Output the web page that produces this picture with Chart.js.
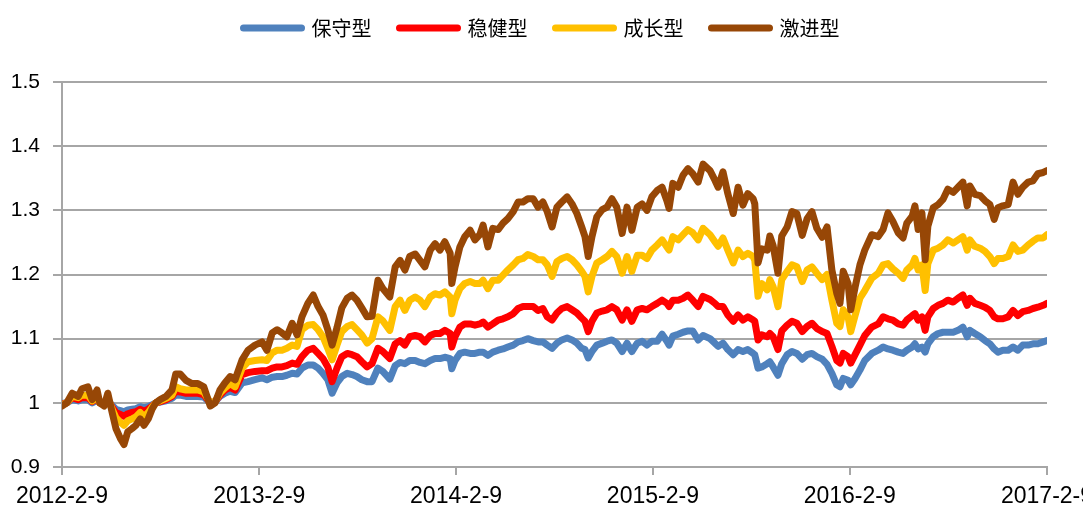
<!DOCTYPE html>
<html>
<head>
<meta charset="utf-8">
<script src="https://cdn.jsdelivr.net/npm/chart.js@4.4.1/dist/chart.umd.min.js"></script>
<style>
html,body{margin:0;padding:0;background:#fff;}
#wrap{width:1083px;height:522px;}
</style>
</head>
<body>
<div id="wrap"><canvas id="c" width="1083" height="522"></canvas></div>
<script>
// Days since 2012-02-09
const days = [
0,9,19,30,37,48,56,65,70,78,85,93,100,108,115,122,130,137,145,152,160,167,174,182,193,204,211,219,230,241,252,263,275,284,
293,302,312,321,334,345,358,371,380,390,399,408,417,427,436,445,456,466,475,484,493,501,510,519,529,538,547,556,566,575,586,595,
608,618,627,636,645,655,664,673,683,692,701,710,720,723,729,738,747,757,766,775,781,790,799,809,818,827,837,846,855,864,874,883,892,
900,909,918,927,937,946,955,964,970,976,983,992,1002,1011,1020,1029,1039,1048,1057,1067,1076,1085,1094,1104,1113,1122,1126,1133,1143,1152,1161,1170,1180,1189,
1202,1211,1217,1226,1235,1245,1254,1263,1272,1282,1285,1291,1298,1308,1313,1319,1328,1335,1345,1354,1363,1373,1382,1391,1400,1410,1419,1428,1437,1443,1449,1458,1463,1471,1480,1489,
1502,1514,1523,1532,1541,1551,1560,1567,1577,1582,1588,1595,1601,1606,1616,1625,1634,1643,1653,1662,1671,1679,1684,1693,1703,1712,1721,1729,1736,1745,1755,1764,1773,1782,1792,1801,1810,1820,1827
];
const tickDays = [0,366,731,1096,1461,1827];
const tickLabels = ['2012-2-9','2013-2-9','2014-2-9','2015-2-9','2016-2-9','2017-2-9'];
const seriesNames = ['保守型','稳健型','成长型','激进型'];

const conservative = [
0.999,1.0,1.005,1.003,1.005,1.005,1.0,1.004,1.0,0.999,1.003,0.996,0.99,0.988,0.986,0.989,0.99,0.991,0.994,0.992,0.994,0.997,1.0,1.001,1.003,1.007,1.012,1.012,1.01,1.01,1.01,1.009,1.0,1.002,
1.01,1.015,1.018,1.016,1.031,1.033,1.036,1.039,1.036,1.04,1.041,1.041,1.043,1.046,1.045,1.054,1.059,1.059,1.054,1.046,1.036,1.015,1.031,1.041,1.046,1.044,1.041,1.036,1.033,1.033,1.054,1.049,
1.037,1.058,1.063,1.061,1.066,1.066,1.063,1.061,1.066,1.069,1.069,1.071,1.069,1.053,1.066,1.077,1.079,1.077,1.077,1.079,1.079,1.074,1.079,1.082,1.084,1.087,1.09,1.095,1.097,1.1,1.097,1.095,1.095,
1.09,1.085,1.093,1.098,1.101,1.098,1.093,1.085,1.083,1.07,1.08,1.09,1.093,1.096,1.098,1.093,1.08,1.093,1.08,1.093,1.096,1.09,1.096,1.096,1.107,1.096,1.09,1.104,1.107,1.11,1.112,1.112,1.098,1.105,
1.1,1.093,1.088,1.093,1.083,1.075,1.083,1.08,1.083,1.077,1.075,1.054,1.056,1.061,1.064,1.056,1.043,1.061,1.075,1.08,1.077,1.068,1.075,1.077,1.072,1.068,1.06,1.046,1.028,1.025,1.038,1.035,1.028,1.038,1.051,1.066,
1.077,1.082,1.087,1.084,1.082,1.079,1.077,1.082,1.087,1.092,1.084,1.087,1.079,1.092,1.103,1.108,1.11,1.11,1.11,1.113,1.118,1.103,1.113,1.108,1.103,1.097,1.092,1.084,1.079,1.082,1.082,1.087,1.082,1.09,1.09,1.092,1.092,1.095,1.097
];
const balanced = [
0.998,1.0,1.008,1.005,1.008,1.008,1.002,1.007,1.0,0.998,1.005,0.993,0.985,0.982,0.979,0.983,0.985,0.986,0.99,0.987,0.99,0.995,1.0,1.002,1.005,1.01,1.018,1.017,1.015,1.015,1.015,1.013,1.0,1.002,
1.012,1.02,1.024,1.02,1.044,1.047,1.049,1.05,1.05,1.054,1.056,1.056,1.058,1.062,1.06,1.072,1.082,1.085,1.077,1.069,1.056,1.033,1.054,1.072,1.077,1.075,1.072,1.064,1.056,1.061,1.085,1.08,
1.069,1.092,1.097,1.09,1.103,1.105,1.103,1.095,1.105,1.108,1.108,1.113,1.108,1.087,1.103,1.118,1.123,1.123,1.121,1.123,1.126,1.118,1.123,1.129,1.131,1.134,1.139,1.147,1.15,1.15,1.15,1.144,1.147,
1.134,1.129,1.14,1.147,1.15,1.145,1.14,1.132,1.127,1.111,1.127,1.14,1.143,1.145,1.15,1.145,1.129,1.145,1.127,1.145,1.147,1.145,1.15,1.155,1.16,1.155,1.15,1.16,1.16,1.163,1.168,1.16,1.15,1.166,
1.161,1.155,1.15,1.15,1.137,1.127,1.137,1.129,1.134,1.129,1.127,1.098,1.106,1.103,1.108,1.103,1.083,1.112,1.121,1.127,1.124,1.111,1.119,1.124,1.116,1.111,1.108,1.088,1.066,1.062,1.077,1.072,1.062,1.075,1.09,1.105,
1.118,1.123,1.134,1.131,1.129,1.123,1.121,1.129,1.136,1.139,1.129,1.134,1.113,1.134,1.147,1.152,1.155,1.16,1.157,1.163,1.168,1.152,1.163,1.155,1.152,1.149,1.144,1.134,1.131,1.131,1.134,1.144,1.136,1.142,1.144,1.147,1.149,1.152,1.155
];
const growth = [
0.997,1.0,1.01,1.008,1.012,1.012,1.003,1.01,1.0,0.998,1.008,0.99,0.977,0.97,0.965,0.972,0.975,0.978,0.985,0.978,0.985,0.993,1.0,1.003,1.007,1.012,1.025,1.022,1.02,1.02,1.02,1.017,1.0,1.002,
1.015,1.023,1.03,1.025,1.054,1.064,1.066,1.067,1.066,1.078,1.082,1.082,1.085,1.09,1.088,1.114,1.121,1.122,1.114,1.103,1.085,1.067,1.09,1.111,1.119,1.122,1.114,1.106,1.093,1.1,1.134,1.128,
1.113,1.15,1.16,1.144,1.16,1.165,1.16,1.15,1.165,1.17,1.168,1.173,1.165,1.139,1.16,1.178,1.186,1.189,1.186,1.186,1.191,1.178,1.191,1.191,1.199,1.207,1.215,1.223,1.225,1.231,1.228,1.223,1.223,
1.215,1.197,1.22,1.225,1.228,1.223,1.215,1.205,1.197,1.173,1.197,1.218,1.223,1.228,1.236,1.228,1.202,1.228,1.205,1.23,1.23,1.225,1.238,1.246,1.254,1.243,1.238,1.259,1.254,1.262,1.27,1.265,1.254,1.272,
1.262,1.251,1.244,1.257,1.238,1.218,1.238,1.228,1.233,1.228,1.222,1.166,1.186,1.176,1.192,1.181,1.15,1.192,1.205,1.215,1.212,1.189,1.207,1.212,1.202,1.192,1.2,1.16,1.124,1.119,1.145,1.134,1.111,1.136,1.163,1.175,
1.194,1.202,1.215,1.217,1.209,1.202,1.194,1.207,1.215,1.225,1.207,1.215,1.175,1.217,1.238,1.241,1.246,1.254,1.249,1.254,1.259,1.238,1.254,1.244,1.241,1.236,1.228,1.217,1.225,1.225,1.228,1.246,1.236,1.238,1.246,1.252,1.257,1.257,1.262
];
const aggressive = [
0.995,1.0,1.015,1.01,1.022,1.025,1.005,1.02,1.0,0.995,1.015,0.985,0.96,0.945,0.935,0.955,0.96,0.965,0.975,0.965,0.975,0.99,1.0,1.005,1.01,1.02,1.045,1.045,1.035,1.03,1.03,1.025,0.995,1.0,
1.02,1.031,1.041,1.036,1.067,1.082,1.09,1.095,1.082,1.109,1.114,1.109,1.103,1.124,1.106,1.134,1.155,1.168,1.15,1.137,1.114,1.09,1.117,1.148,1.163,1.168,1.16,1.148,1.134,1.135,1.191,1.178,
1.165,1.212,1.222,1.207,1.228,1.232,1.222,1.212,1.238,1.248,1.238,1.251,1.233,1.186,1.212,1.243,1.259,1.269,1.254,1.262,1.277,1.243,1.272,1.27,1.28,1.287,1.298,1.313,1.313,1.318,1.318,1.305,1.313,
1.298,1.274,1.305,1.313,1.321,1.31,1.295,1.274,1.259,1.228,1.259,1.29,1.301,1.305,1.318,1.305,1.264,1.305,1.269,1.305,1.31,1.3,1.321,1.331,1.336,1.315,1.303,1.342,1.336,1.355,1.365,1.357,1.344,1.372,
1.362,1.347,1.336,1.36,1.326,1.295,1.336,1.308,1.326,1.318,1.31,1.218,1.24,1.238,1.26,1.245,1.202,1.26,1.274,1.298,1.295,1.261,1.287,1.298,1.272,1.258,1.274,1.207,1.171,1.155,1.205,1.186,1.145,1.18,1.215,1.238,
1.262,1.259,1.27,1.296,1.283,1.265,1.257,1.28,1.291,1.307,1.27,1.296,1.223,1.275,1.304,1.309,1.317,1.333,1.328,1.336,1.344,1.307,1.338,1.325,1.323,1.315,1.309,1.286,1.304,1.307,1.309,1.344,1.325,1.336,1.344,1.346,1.357,1.359,1.362
];

const colors = ['#4F81BD','#FF0000','#FFC000','#974706'];
const allSeries = [conservative, balanced, growth, aggressive];

const datasets = allSeries.map((vals, i) => ({
  label: seriesNames[i],
  data: vals.map((v, j) => ({x: days[j], y: v})),
  borderColor: colors[i],
  backgroundColor: colors[i],
  borderWidth: 7,
  borderJoinStyle: 'round',
  borderCapStyle: 'round',
  pointRadius: 0,
  tension: 0,
  order: 4 - i
}));

const gridColor = '#A6A6A6';

const legendSpacer = {
  id: 'legendSpacer',
  beforeUpdate(chart) {
    const l = chart.legend;
    if (l && !l._spaced) {
      const orig = l.fit;
      l.fit = function () { orig.call(this); this.height += 34; };
      l._spaced = true;
    }
  }
};

new Chart(document.getElementById('c'), {
  type: 'line',
  data: { datasets },
  plugins: [legendSpacer],
  options: {
    responsive: false,
    animation: false,
    layout: { padding: { top: -10, right: 0, left: 0, bottom: 0 } },
    plugins: {
      tooltip: { enabled: false },
      legend: {
        position: 'top',
        labels: {
          boxWidth: 58,
          boxHeight: 0.01,
          padding: 28,
          color: '#000',
          font: { family: "'Noto Sans CJK SC', sans-serif", size: 20 },
          sort: (a, b) => a.datasetIndex - b.datasetIndex
        }
      }
    },
    scales: {
      x: {
        type: 'linear',
        min: 0,
        max: 1827,
        afterBuildTicks: (s) => { s.ticks = tickDays.map(v => ({value: v})); },
        afterFit: (s) => { s.paddingRight = 36; s.paddingLeft = 0; s.height = 55; },
        ticks: {
          autoSkip: false,
          maxRotation: 0,
          color: '#000',
          padding: 8,
          font: { family: "'Liberation Sans', sans-serif", size: 23 },
          callback: (v) => { const k = tickDays.indexOf(v); return k >= 0 ? tickLabels[k] : ''; }
        },
        grid: { drawOnChartArea: false, drawTicks: true, tickLength: 8, color: gridColor, lineWidth: 2 },
        border: { display: true, color: gridColor, width: 2 }
      },
      y: {
        min: 0.9,
        max: 1.5,
        afterFit: (s) => { s.width = 62; s.paddingTop = 0; s.paddingBottom = 0; },
        ticks: {
          stepSize: 0.1,
          color: '#000',
          padding: 13,
          font: { family: "'Liberation Sans', sans-serif", size: 21 },
          callback: (v) => String(Math.round(v * 10) / 10)
        },
        grid: { color: gridColor, lineWidth: 2, tickLength: 9 },
        border: { display: true, color: gridColor, width: 2 }
      }
    }
  }
});
</script>
</body>
</html>
